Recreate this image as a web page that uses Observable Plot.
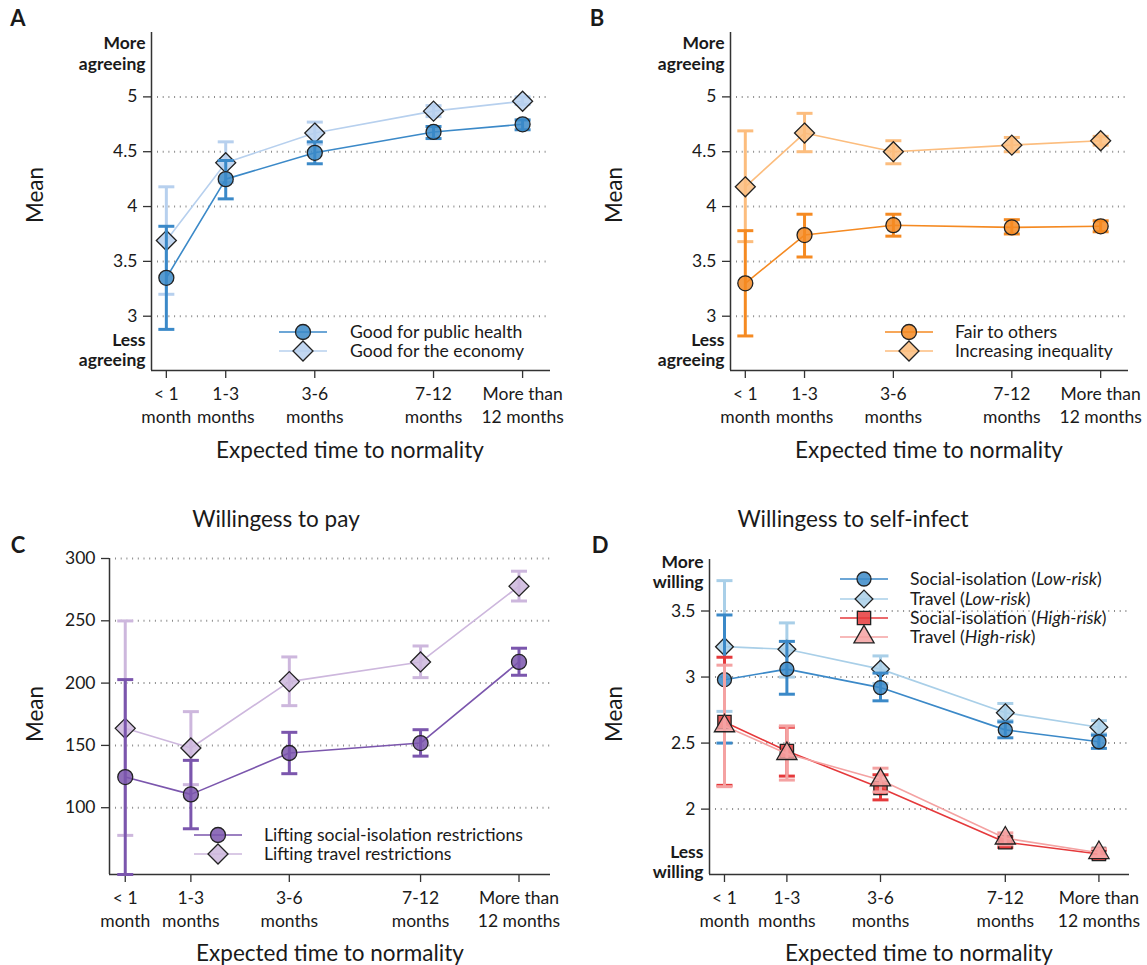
<!DOCTYPE html>
<html>
<head>
<meta charset="utf-8">
<script src="https://cdn.jsdelivr.net/npm/d3@7"></script>
<script src="https://cdn.jsdelivr.net/npm/@observablehq/plot@0.6"></script>
<style>
  html, body { margin: 0; padding: 0; background: #fff; }
  #fig { position: relative; width: 1147px; height: 965px; overflow: hidden; font-family: Lato, "Open Sans", sans-serif; color: #1a1a1a; background: #fff; }
  .abs { position: absolute; white-space: nowrap; line-height: 1; }
  .panel { position: absolute; }
  .panel svg { background: transparent !important; max-width: none !important; }
</style>
</head>
<body>
<div id="fig"></div>
<script>
// ---------- shared categories ----------
const timeLabels = ["< 1\nmonth", "1-3\nmonths", "3-6\nmonths", "7-12\nmonths", "More than\n12 months"];
const timePos = [0, 1, 2.5, 4.5, 6];

// ---------- panel A ----------
const healthMean = [3.35, 4.25, 4.49, 4.68, 4.75];
const healthLo   = [2.88, 4.07, 4.39, 4.62, 4.70];
const healthHi   = [3.82, 4.42, 4.59, 4.73, 4.79];
const economyMean = [3.69, 4.40, 4.67, 4.87, 4.96];
const economyLo   = [3.20, 4.22, 4.57, 4.82, 4.93];
const economyHi   = [4.18, 4.59, 4.77, 4.92, 5.00];

// ---------- panel B ----------
const fairMean = [3.30, 3.74, 3.83, 3.81, 3.82];
const fairLo   = [2.82, 3.54, 3.73, 3.75, 3.77];
const fairHi   = [3.78, 3.93, 3.93, 3.88, 3.87];
const inequalityMean = [4.18, 4.67, 4.50, 4.56, 4.60];
const inequalityLo   = [3.68, 4.50, 4.39, 4.50, 4.56];
const inequalityHi   = [4.69, 4.85, 4.60, 4.63, 4.64];

// ---------- panel C ----------
const payIsolationMean = [124.6, 110.7, 143.9, 151.9, 217.0];
const payIsolationLo   = [46.4, 83.1, 127.3, 141.4, 206.3];
const payIsolationHi   = [202.8, 138.0, 160.5, 162.6, 228.0];
const payTravelMean = [163.7, 147.9, 201.2, 217.0, 277.8];
const payTravelLo   = [77.8, 118.5, 181.9, 204.4, 265.9];
const payTravelHi   = [249.9, 177.1, 221.0, 229.8, 289.8];

// ---------- panel D ----------
const isoLowMean = [2.98, 3.06, 2.92, 2.60, 2.51];
const isoLowLo   = [2.50, 2.87, 2.82, 2.54, 2.46];
const isoLowHi   = [3.47, 3.27, 3.03, 2.66, 2.56];
const travelLowMean = [3.23, 3.21, 3.06, 2.73, 2.62];
const travelLowLo   = [2.74, 3.00, 2.95, 2.67, 2.57];
const travelLowHi   = [3.73, 3.41, 3.16, 2.80, 2.67];
const isoHighMean = [2.66, 2.44, 2.16, 1.75, 1.66];
const isoHighLo   = [2.18, 2.25, 2.07, 1.71, 1.63];
const isoHighHi   = [3.15, 2.62, 2.26, 1.79, 1.69];
const travelHighMean = [2.63, 2.42, 2.22, 1.78, 1.67];
const travelHighLo   = [2.17, 2.22, 2.13, 1.73, 1.64];
const travelHighHi   = [3.09, 2.63, 2.31, 1.82, 1.70];

// ---------- axis ticks / labels ----------
const agreeTicks = [3, 3.5, 4, 4.5, 5];
const agreeEnds = ["More\nagreeing", "Less\nagreeing"];
const agreeEndAt = [5.40, 2.70];
const payTicks = [100, 150, 200, 250, 300];
const infectTicks = [2, 2.5, 3, 3.5];
const willingEnds = ["More\nwilling", "Less\nwilling"];
const willingEndAt = [3.80, 1.60];

const panelLetters = ["A", "B", "C", "D"];
const panelTitles = ["", "", "Willingess to pay", "Willingess to self-infect"];
const yTitle = "Mean";
const xTitle = "Expected time to normality";

const legendA = ["Good for public health", "Good for the economy"];
const legendB = ["Fair to others", "Increasing inequality"];
const legendC = ["Lifting social-isolation restrictions", "Lifting travel restrictions"];
const legendD = ["Social-isolation (<i>Low-risk</i>)", "Travel (<i>Low-risk</i>)", "Social-isolation (<i>High-risk</i>)", "Travel (<i>High-risk</i>)"];

// ---------- colours ----------
const C = {
  blue: "#3b89c8", blueLight: "#b7d0ee", blueLightD: "#a9cfe8",
  orange: "#f58a22", orangeLight: "#fcbd7e",
  purple: "#7b56ad", purpleLight: "#cdb7dd",
  red: "#e5393b", redLight: "#f4a2a2"
};

const fig = document.getElementById("fig");
const numFmt = d3.format("~g");

const capSymbol = {
  draw(ctx, size) {
    const w = Math.sqrt(size / Math.PI);
    ctx.moveTo(-w, 0); ctx.lineTo(w, 0);
  }
};

function seriesMarks(s) {
  const rows = timePos.map((x, i) => ({x, m: s.mean[i], lo: s.lo[i], hi: s.hi[i]}));
  return [
    Plot.ruleX(rows, {x: "x", y1: "lo", y2: "hi", stroke: s.bar, strokeWidth: 3}),
    Plot.dot(rows, {x: "x", y: "lo", symbol: capSymbol, r: 8, stroke: s.bar, strokeWidth: 3, fill: "none"}),
    Plot.dot(rows, {x: "x", y: "hi", symbol: capSymbol, r: 8, stroke: s.bar, strokeWidth: 3, fill: "none"}),
    Plot.line(rows, {x: "x", y: "m", stroke: s.line, strokeWidth: 1.6}),
    Plot.dot(rows, {x: "x", y: "m", symbol: s.symbol, r: s.r, fill: s.fill, fillOpacity: 0.85, stroke: "#222", strokeWidth: 1.3})
  ];
}

function panel(cfg) {
  const xMap = new Map(timePos.map((p, i) => [p, timeLabels[i]]));
  const marks = [
    Plot.gridY({ticks: cfg.yTicks, stroke: "#8c8c8c", strokeOpacity: 1, strokeWidth: 2, strokeDasharray: "1,4.7", insetLeft: 6}),
    Plot.ruleX([cfg.xDomain[0]], {stroke: "#333", strokeWidth: 1.5}),
    Plot.ruleY([cfg.yDomain[0]], {stroke: "#333", strokeWidth: 1.5}),
    Plot.axisY({ticks: cfg.yTicks, tickFormat: numFmt, tickSize: 8, tickPadding: 6, label: null, stroke: "#333", strokeWidth: 1.3}),
    Plot.axisX({ticks: timePos, tickFormat: d => xMap.get(d), tickSize: 8, tickPadding: 5, label: null, lineHeight: 1.33, stroke: "#333", strokeWidth: 1.3})
  ];
  if (cfg.ends) {
    const eMap = new Map(cfg.endsAt.map((p, i) => [p, cfg.ends[i]]));
    marks.push(Plot.axisY({ticks: cfg.endsAt, tickFormat: d => eMap.get(d), tickSize: 0, tickPadding: 6, fontWeight: "bold", lineHeight: 1.15, label: null}));
  }
  for (const s of cfg.series) marks.push(...seriesMarks(s));
  const svg = Plot.plot({
    width: cfg.w, height: cfg.h,
    marginLeft: cfg.ml, marginRight: cfg.mr, marginTop: cfg.mt, marginBottom: cfg.mb,
    style: {fontFamily: "Lato, 'Open Sans', sans-serif", fontSize: "17.5px", color: "#1a1a1a", background: "transparent", overflow: "visible"},
    x: {type: "linear", domain: cfg.xDomain},
    y: {type: "linear", domain: cfg.yDomain},
    marks
  });
  const wrap = document.createElement("div");
  wrap.className = "panel";
  wrap.style.left = cfg.left + "px";
  wrap.style.top = cfg.top + "px";
  wrap.style.width = cfg.w + "px";
  wrap.style.height = cfg.h + "px";
  wrap.appendChild(svg);
  fig.appendChild(wrap);
}

function text(str, x, y, opts = {}) {
  const el = document.createElement("div");
  el.className = "abs";
  el.textContent = str;
  el.style.left = x + "px";
  el.style.top = y + "px";
  el.style.fontSize = (opts.size || 22.5) + "px";
  el.style.fontWeight = opts.weight || "normal";
  el.style.transform = `translate(-50%,-50%) rotate(${opts.rotate || 0}deg)`;
  fig.appendChild(el);
}

function legend(x0, textX, yCenters, items) {
  items.forEach((it, i) => {
    const svg = d3.create("svg").attr("width", 50).attr("height", 24)
      .style("position", "absolute").style("left", x0 + "px").style("top", (yCenters[i] - 12) + "px").style("overflow", "visible");
    svg.append("line").attr("x1", 0).attr("x2", 48).attr("y1", 12).attr("y2", 12).attr("stroke", it.line).attr("stroke-width", 1.6);
    svg.append("path").attr("d", d3.symbol(it.type, it.r * it.r * Math.PI)())
      .attr("transform", "translate(24,12)").attr("fill", it.fill).attr("fill-opacity", 0.85).attr("stroke", "#222").attr("stroke-width", 1.3);
    fig.appendChild(svg.node());
    const t = document.createElement("div");
    t.className = "abs";
    t.innerHTML = it.label;
    t.style.left = textX + "px";
    t.style.top = yCenters[i] + "px";
    t.style.fontSize = "17.6px";
    t.style.transform = "translateY(-50%)";
    fig.appendChild(t);
  });
}

// ---------- panels ----------
panel({
  left: 0, top: 0, w: 573, h: 480, ml: 151, mr: 23, mt: 32, mb: 110,
  xDomain: [-0.25, 6.47], yDomain: [2.505, 5.587], yTicks: agreeTicks, ends: agreeEnds, endsAt: agreeEndAt,
  series: [
    {mean: economyMean, lo: economyLo, hi: economyHi, bar: C.blueLight, line: C.blueLight, fill: C.blueLight, symbol: "diamond2", r: 9},
    {mean: healthMean, lo: healthLo, hi: healthHi, bar: C.blue, line: C.blue, fill: C.blue, symbol: "circle", r: 7.5}
  ]
});
panel({
  left: 573, top: 0, w: 574, h: 480, ml: 157, mr: 19, mt: 32, mb: 110,
  xDomain: [-0.25, 6.47], yDomain: [2.505, 5.587], yTicks: agreeTicks, ends: agreeEnds, endsAt: agreeEndAt,
  series: [
    {mean: inequalityMean, lo: inequalityLo, hi: inequalityHi, bar: C.orangeLight, line: C.orangeLight, fill: C.orangeLight, symbol: "diamond2", r: 9},
    {mean: fairMean, lo: fairLo, hi: fairHi, bar: C.orange, line: C.orange, fill: C.orange, symbol: "circle", r: 7.5}
  ]
});
panel({
  left: 0, top: 480, w: 573, h: 485, ml: 109, mr: 23, mt: 78, mb: 91,
  xDomain: [-0.24, 6.48], yDomain: [46.4, 300], yTicks: payTicks,
  series: [
    {mean: payTravelMean, lo: payTravelLo, hi: payTravelHi, bar: C.purpleLight, line: C.purpleLight, fill: C.purpleLight, symbol: "diamond2", r: 9},
    {mean: payIsolationMean, lo: payIsolationLo, hi: payIsolationHi, bar: C.purple, line: C.purple, fill: C.purple, symbol: "circle", r: 7.5}
  ]
});
panel({
  left: 573, top: 480, w: 574, h: 485, ml: 136, mr: 18, mt: 79, mb: 91,
  xDomain: [-0.24, 6.49], yDomain: [1.505, 3.89], yTicks: infectTicks, ends: willingEnds, endsAt: willingEndAt,
  series: [
    {mean: travelLowMean, lo: travelLowLo, hi: travelLowHi, bar: C.blueLightD, line: C.blueLightD, fill: C.blueLightD, symbol: "diamond2", r: 8},
    {mean: isoLowMean, lo: isoLowLo, hi: isoLowHi, bar: C.blue, line: C.blue, fill: C.blue, symbol: "circle", r: 7},
    {mean: isoHighMean, lo: isoHighLo, hi: isoHighHi, bar: C.red, line: C.red, fill: C.red, symbol: "square", r: 7.5},
    {mean: travelHighMean, lo: travelHighLo, hi: travelHighHi, bar: C.redLight, line: C.redLight, fill: C.redLight, symbol: "triangle", r: 7.5}
  ]
});

// ---------- text ----------
text(panelLetters[0], 18, 18, {size: 22, weight: "bold"});
text(panelLetters[1], 597, 18, {size: 22, weight: "bold"});
text(panelLetters[2], 18, 545, {size: 22, weight: "bold"});
text(panelLetters[3], 600, 545, {size: 22, weight: "bold"});

text(yTitle, 35, 195, {rotate: -90});
text(yTitle, 614, 195, {rotate: -90});
text(yTitle, 35, 714, {rotate: -90});
text(yTitle, 614, 714, {rotate: -90});

text(xTitle, 350, 450);
text(xTitle, 929, 450);
text(xTitle, 330, 953);
text(xTitle, 919, 953);

text(panelTitles[2], 276, 519);
text(panelTitles[3], 853, 519);

// ---------- legends ----------
legend(279, 350, [331.7, 351.2], [
  {label: legendA[0], line: C.blue, fill: C.blue, type: d3.symbolCircle, r: 7.5},
  {label: legendA[1], line: C.blueLight, fill: C.blueLight, type: d3.symbolDiamond2, r: 9}
]);
legend(885, 955, [331.7, 351.2], [
  {label: legendB[0], line: C.orange, fill: C.orange, type: d3.symbolCircle, r: 7.5},
  {label: legendB[1], line: C.orangeLight, fill: C.orangeLight, type: d3.symbolDiamond2, r: 9}
]);
legend(194, 264, [835, 854.3], [
  {label: legendC[0], line: C.purple, fill: C.purple, type: d3.symbolCircle, r: 7.5},
  {label: legendC[1], line: C.purpleLight, fill: C.purpleLight, type: d3.symbolDiamond2, r: 9}
]);
legend(840, 910, [579.3, 598.6, 617.9, 637.2], [
  {label: legendD[0], line: C.blue, fill: C.blue, type: d3.symbolCircle, r: 7},
  {label: legendD[1], line: C.blueLightD, fill: C.blueLightD, type: d3.symbolDiamond2, r: 8},
  {label: legendD[2], line: C.red, fill: C.red, type: d3.symbolSquare, r: 7.5},
  {label: legendD[3], line: C.redLight, fill: C.redLight, type: d3.symbolTriangle, r: 7.5}
]);
</script>
</body>
</html>
